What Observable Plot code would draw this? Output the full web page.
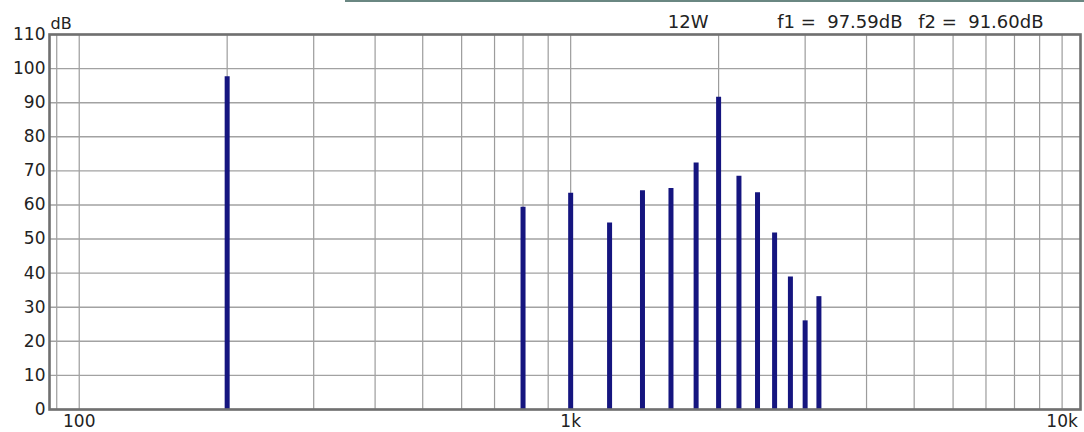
<!DOCTYPE html>
<html>
<head>
<meta charset="utf-8">
<script src="https://cdn.jsdelivr.net/npm/d3@7"></script>
<script src="https://cdn.jsdelivr.net/npm/@observablehq/plot@0.6"></script>
<style>
  body { margin: 0; background: #fff; }
  #chart { position: relative; width: 1084px; height: 432px; }
  #strip { position: absolute; top: 0; left: 345px; width: 739px; height: 2px; background: #6a8782; }
  svg text { white-space: pre; }
</style>
</head>
<body>
<div id="chart"><div id="strip"></div></div>
<script>
// Frequencies (Hz) of the spectral lines
const freqs = [200, 800, 1000, 1200, 1400, 1600, 1800, 2000, 2200, 2400, 2600, 2800, 3000, 3200];
// Levels (dB)
const levels = [97.59, 59.3, 63.4, 54.7, 64.2, 64.8, 72.3, 91.60, 68.4, 63.6, 51.8, 38.9, 26.0, 33.1];
// Grid lines
const xGrid = [90, 100, 200, 300, 400, 500, 600, 700, 800, 900,
               1000, 2000, 3000, 4000, 5000, 6000, 7000, 8000, 9000, 10000];
const yTicks = [0, 10, 20, 30, 40, 50, 60, 70, 80, 90, 100, 110];
// X tick labels
const xTickValues = [100, 1000, 10000];
const xTickLabels = ["100", "1k", "10k"];
// Header texts
const header = ["12W", "f1 =  97.59dB", "f2 =  91.60dB"];

const data = freqs.map((f, i) => ({f, db: levels[i]}));
const xLabels = xTickValues.map((v, i) => ({v, label: xTickLabels[i]}));

const font = "DejaVu Sans, Liberation Sans, Arial, sans-serif";

const chart = Plot.plot({
  width: 1084,
  height: 432,
  marginLeft: 49,
  marginRight: 4,
  marginTop: 34,
  marginBottom: 23,
  style: {fontFamily: font, background: "#fff", color: "#222"},
  x: {type: "log", domain: [87, 10900], axis: null},
  y: {domain: [0, 110], axis: null},
  marks: [
    Plot.ruleX(xGrid, {x: d => d, stroke: "#9c9c9c", strokeWidth: 1.2}),
    Plot.ruleY(yTicks, {y: d => d, stroke: "#a2a2a2", strokeWidth: 1.4}),
    Plot.ruleX(data, {x: "f", y1: 0, y2: "db", stroke: "#15157f", strokeWidth: 5}),
    Plot.frame({stroke: "#707070", strokeWidth: 2.6}),
    Plot.text(yTicks, {y: d => d, text: d => String(d), frameAnchor: "left", textAnchor: "end", dx: -4, fontSize: 17, fill: "#222"}),
    Plot.text(xLabels, {x: "v", text: "label", frameAnchor: "bottom", lineAnchor: "top", dy: 5, fontSize: 17, fill: "#222"}),
    Plot.text(["dB"], {text: d => d, frameAnchor: "top-left", textAnchor: "start", lineAnchor: "bottom", dx: 1, dy: -6, fontSize: 16, fill: "#222"}),
    Plot.text([header[0]], {text: d => d, frameAnchor: "top-right", textAnchor: "end", lineAnchor: "bottom", dx: -372, dy: -7, fontSize: 18, fill: "#222"}),
    Plot.text([header[1]], {text: d => d, frameAnchor: "top-right", textAnchor: "end", lineAnchor: "bottom", dx: -178, dy: -7, fontSize: 18, fill: "#222"}),
    Plot.text([header[2]], {text: d => d, frameAnchor: "top-right", textAnchor: "end", lineAnchor: "bottom", dx: -37, dy: -7, fontSize: 18, fill: "#222"})
  ]
});
document.getElementById("chart").appendChild(chart);
</script>
</body>
</html>
